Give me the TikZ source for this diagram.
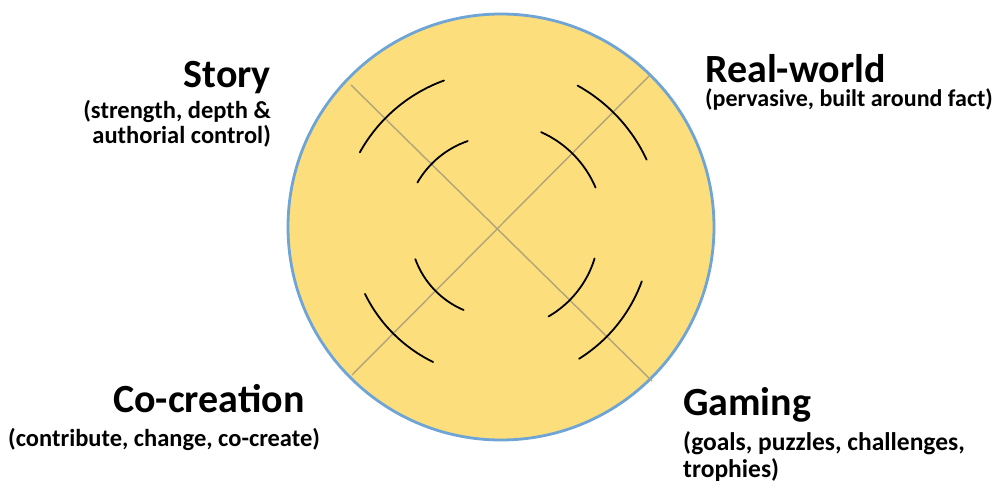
\documentclass[tikz,border=0pt]{standalone}
\usepackage{fontspec}
\setmainfont{Carlito}
\usepackage{xcolor}
\usetikzlibrary{positioning,calc}
\definecolor{discfill}{RGB}{252,222,124}
\definecolor{discrim}{RGB}{110,164,214}
\definecolor{crossln}{RGB}{178,164,122}
\definecolor{stroke}{RGB}{58,58,58}

\begin{document}
\begin{tikzpicture}[
  x=1pt, y=1pt,
  title/.style={font=\bfseries\fontsize{40}{44}\selectfont, inner sep=0pt},
  sub/.style={font=\bfseries\fontsize{24.5}{25}\selectfont, inner sep=0pt},
  cross/.style={crossln, line width=1.4pt},
  arcln/.style={stroke, line width=1.8pt, line cap=round}
]
  \useasboundingbox (0,0) rectangle (999,488);

  % disc and axes
  \node[circle, draw=discrim, fill=discfill, line width=2.8pt,
        minimum size=426pt, inner sep=0pt] (disc) at (501,261) {};
  \coordinate (c) at (498,259);
  \coordinate (tl) at (351,403);
  \coordinate (br) at (652,107);
  \coordinate (tr) at (650,413);
  \coordinate (bl) at (352,113);
  \draw[cross] (tl) -- (br);
  \draw[cross] (tr) -- (bl);

  % tension arcs
  \foreach \a/\b/\r in {110/151/158, 109/150/93, 25/61/164, 23/66/106,
                        206/244/148, 200/247/88, -58/-20/153, -60/-17/101}
    \draw[arcln] ($(c)+(\a:\r)$) arc[start angle=\a, end angle=\b, radius=\r];

  % labels
  \node[title, anchor=base east] (story) at (271,400) {Story};
  \node[sub, anchor=north east, align=right] (storysub)
    at ([yshift=-12pt]story.base east) {(strength, depth \&\\authorial control)};

  \node[title, anchor=base west] (real) at (705,405) {Real-world};
  \node[sub, anchor=base west, font=\bfseries\fontsize{24}{25}\selectfont] (realsub)
    at ([yshift=-24pt]real.base west) {(pervasive, built around fact)};

  \node[title, anchor=base west] (cocreate) at (113,76) {Co-creation};
  \node[sub, anchor=base west] (cocreatesub)
    at (8,42) {(contribute, change, co-create)};

  \node[title, anchor=base west] (gaming) at (683,73) {Gaming};
  \node[sub, anchor=north west, align=left, font=\bfseries\fontsize{25.5}{27}\selectfont] (gamingsub)
    at ([yshift=-16pt]gaming.base west) {(goals, puzzles, challenges,\\trophies)};
\end{tikzpicture}
\end{document}
